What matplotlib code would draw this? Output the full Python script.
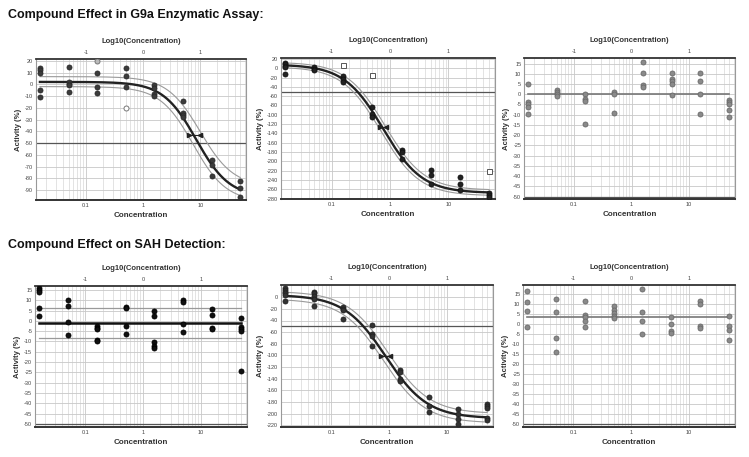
import numpy as np
import matplotlib.pyplot as plt
from matplotlib.ticker import LogLocator, NullFormatter, FixedLocator

plt.rcParams['font.family'] = ['Liberation Sans', 'DejaVu Sans']

# ============================
# Dose-response panels: G9a enzymatic assay (top) and SAH detection (bottom)
# ============================

# shared concentration series (half-log dilutions)
conc = [0.0158, 0.05, 0.158, 0.5, 1.58, 5, 15.8, 50]

# replicate activities (%) per concentration
g9a_a = [[14, 12, 10, -5, -11], [15, 2, 0, -1, -7], [10, -2, -7.5], [14, 7, -2],
         [-1, -3, -8, -10], [-14, -24.5, -26, -28], [-64.5, -69, -78], [-82, -88, -96]]
g9a_b = [[12, 9, 5, 3, -12], [3, -1, -4], [-17, -23, -29], [-83, -99, -105],
         [-176, -180, -196], [-218, -229, -248], [-234, -248, -262], [-269, -273, -276]]
g9a_c = [[5, -4, -5, -6, -9.5], [2, 1, 0, -1], [0, -2.4, -3.2, -14.5], [1, 0, -9],
         [15.8, 10.2, 4.7, 3.4], [10.2, 7.3, 6.5, 5.2, -0.5], [10.2, 6.3, 0.2, -9.9],
         [-2.9, -4, -4.9, -7.8, -10.9]]
sah_a = [[16, 15, 14, 6, 2.5], [10.3, 7.2, -0.5, -6.7], [-2.3, -3.3, -3.9, -9.2, -9.9],
         [6.9, 6.1, -2.6, -6.2], [4.8, 2.2, -10.5, -12, -13], [10.2, 9.3, -1.5, -5.3],
         [5.6, 3, -3.4, -4], [1.4, -2.8, -3.9, -4.7, -24.3]]
sah_b = [[15.5, 12.6, 9.8, 6.9, 4, -6.3], [9.8, 6.9, 2.9, -2.9, -15.5], [-16, -19.5, -22.4, -37.9],
         [-47.7, -63.8, -66.6, -83.3], [-125, -129, -140, -144], [-172, -187, -197],
         [-192, -201, -210, -217], [-183, -187, -191, -207, -211]]
sah_c = [[16.5, 11, 6.5, -1.3], [12.7, 5.8, -6.7, -14], [11.7, 4.5, 3.3, 1.5, -1.2],
         [9.2, 6.8, 5.7, 4.2, 3], [17.7, 6, 1.8, -4.8], [3.5, 0.2, -3.3, -4.2],
         [11.5, 10.2, -0.8, -1.7], [4.2, -0.7, -3, -8]]

# excluded / flagged points (open markers)
g9a_a_open = ([0.5], [-20])
g9a_a_light = ([0.158], [19.5])
g9a_b_open = ([0.158, 0.5, 50], [8, -14, -220])

# 4-parameter logistic fits: (top, bottom, ic50, hill)
fit_g9a_a = (2, -96, 8.5, 1.5)
band_g9a_a = [(6.5, -87, 10.0, 1.5), (-2, -100, 7.5, 1.5)]
fit_g9a_b = (8, -268, 0.76, 1.3)
band_g9a_b = [(13, -262, 0.83, 1.3), (3, -274, 0.70, 1.3)]
fit_sah_b = (4, -208, 0.88, 1.2)
band_sah_b = [(10, -200, 0.96, 1.2), (-3, -216, 0.81, 1.2)]

# IC50 confidence marks: (low, high, activity level)
ic50_g9a_a = (6.3, 10, -43)
ic50_g9a_b = (0.66, 0.86, -127)
ic50_sah_b = (0.74, 1.05, -101)

# flat fits for inactive panels: (mean, upper, lower)
flat_g9a_c = (0.2, None, None)
flat_sah_a = (-0.9, 6.3, -8.1)
flat_sah_c = (3.3, None, None)

# y tick values per panel
yt_a = list(range(20, -91, -10))
yt_b = list(range(20, -281, -20))
yt_c = list(range(15, -51, -5))
yt_sah_b = list(range(0, -221, -20))

# top axis: log10 of the concentration decades
log_ticks = [0.1, 1, 10]
log_labels = ['-1', '0', '1']

W, H = 749, 457


def logistic(x, p):
    top, bottom, ic50, hill = p
    return bottom + (top - bottom) / (1 + (x / ic50) ** hill)


def make_axes(fig, left, right, top, bottom):
    return fig.add_axes([left / W, 1 - bottom / H, (right - left) / W, (bottom - top) / H])


def style_axes(ax, yticks, ylim):
    ax.set_xscale('log')
    ax.set_xlim(10 ** -1.87, 10 ** 1.80)
    ax.set_ylim(*ylim)
    ax.set_xticks([0.1, 1, 10])
    ax.set_xticklabels(['0.1', '1', '10'])
    ax.xaxis.set_minor_locator(LogLocator(base=10, subs=np.arange(2, 10)))
    ax.xaxis.set_minor_formatter(NullFormatter())
    ax.yaxis.set_major_locator(FixedLocator(yticks))
    ax.set_yticklabels([str(v) for v in yticks])
    ax.tick_params(labelsize=4, colors='#444', length=0, pad=2)
    ax.tick_params(which='minor', length=0)
    ax.grid(True, which='major', color='#c8c8c8', lw=0.6)
    ax.grid(True, which='minor', axis='x', color='#d8d8d8', lw=0.5)
    ax.set_axisbelow(True)
    for s in ['left', 'right']:
        ax.spines[s].set_color('#999')
        ax.spines[s].set_linewidth(0.8)
    ax.spines['top'].set_color('#333')
    ax.spines['top'].set_linewidth(1.3)
    ax.spines['bottom'].set_color('#333')
    ax.spines['bottom'].set_linewidth(1.4)
    ax.set_xlabel('Concentration', fontsize=5.8, fontweight='bold', color='#333', labelpad=3)
    ax.set_ylabel('Activity (%)', fontsize=5.6, fontweight='bold', color='#333', labelpad=2)
    sec = ax.secondary_xaxis('top')
    sec.set_xticks(log_ticks)
    sec.set_xticklabels(log_labels)
    sec.xaxis.set_minor_locator(FixedLocator([]))
    sec.tick_params(labelsize=4, colors='#444', length=0, pad=3)
    sec.spines['top'].set_visible(False)
    sec.set_xlabel('Log10(Concentration)', fontsize=5.5, fontweight='bold', color='#333', labelpad=5)
    ax.axhline(-50, color='#555', lw=0.9, zorder=2)


def plot_points(ax, groups, color, edge):
    xs, ys = [], []
    for c, vals in zip(conc, groups):
        for v in vals:
            xs.append(c)
            ys.append(v)
    ax.plot(xs, ys, 'o', ms=3.6, mfc=color, mec=edge, mew=0.6, zorder=4)


def plot_fit(ax, fit, bands, ic50):
    xx = np.geomspace(conc[0], conc[-1], 300)
    for b in bands:
        ax.plot(xx, logistic(xx, b), color='#9a9a9a', lw=0.8, zorder=3)
    ax.plot(xx, logistic(xx, fit), color='#222', lw=1.7, zorder=3)
    lo, hi, lvl = ic50
    ax.plot([lo, hi], [lvl, lvl], color='#222', lw=0.8, zorder=5)
    ax.plot([lo], [lvl], marker='>', ms=3, color='#222', zorder=5)
    ax.plot([hi], [lvl], marker='<', ms=3, color='#222', zorder=5)


def plot_flat(ax, flat, color, lw):
    mean, up, lo = flat
    ax.plot([conc[0], conc[-1]], [mean, mean], color=color, lw=lw, zorder=3)
    for v in (up, lo):
        if v is not None:
            ax.plot([conc[0], conc[-1]], [v, v], color='#9a9a9a', lw=0.9, zorder=3)


fig = plt.figure(figsize=(W / 100, H / 100), dpi=100)

fig.text(8 / W, 1 - 15 / H, 'Compound Effect in G9a Enzymatic Assay:', fontsize=9,
         fontweight='bold', va='center', ha='left', color='#111')
fig.text(8 / W, 1 - 245 / H, 'Compound Effect on SAH Detection:', fontsize=9,
         fontweight='bold', va='center', ha='left', color='#111')

# top row
ax1 = make_axes(fig, 36, 246, 59, 200)
style_axes(ax1, yt_a, (-98.5, 21.5))
plot_fit(ax1, fit_g9a_a, band_g9a_a, ic50_g9a_a)
plot_points(ax1, g9a_a, '#3c3c3c', '#2a2a2a')
ax1.plot(*g9a_a_open, 'o', ms=3.6, mfc='white', mec='#777', mew=0.7, zorder=4)
ax1.plot(*g9a_a_light, 'o', ms=3.6, mfc='#bbb', mec='#777', mew=0.7, zorder=4)

ax2 = make_axes(fig, 281, 495, 58, 199)
style_axes(ax2, yt_b, (-281, 22))
plot_fit(ax2, fit_g9a_b, band_g9a_b, ic50_g9a_b)
plot_points(ax2, g9a_b, '#222', '#111')
ax2.plot(*g9a_b_open, 's', ms=3.6, mfc='white', mec='#555', mew=0.7, zorder=4)

ax3 = make_axes(fig, 524, 735, 58, 199)
style_axes(ax3, yt_c, (-51.2, 17.7))
plot_flat(ax3, flat_g9a_c, '#777', 1.2)
plot_points(ax3, g9a_c, '#8a8a8a', '#6a6a6a')

# bottom row
ax4 = make_axes(fig, 35, 247, 286, 427)
style_axes(ax4, yt_c, (-51.5, 16.9))
plot_flat(ax4, flat_sah_a, '#111', 1.8)
plot_points(ax4, sah_a, '#111', '#000')

ax5 = make_axes(fig, 281, 493, 285, 427)
style_axes(ax5, yt_sah_b, (-223, 21))
plot_fit(ax5, fit_sah_b, band_sah_b, ic50_sah_b)
plot_points(ax5, sah_b, '#333', '#222')

ax6 = make_axes(fig, 523, 735, 285, 427)
style_axes(ax6, yt_c, (-51.3, 19.5))
plot_flat(ax6, flat_sah_c, '#777', 1.2)
plot_points(ax6, sah_c, '#8a8a8a', '#6a6a6a')

fig.savefig('out.png', dpi=100)
